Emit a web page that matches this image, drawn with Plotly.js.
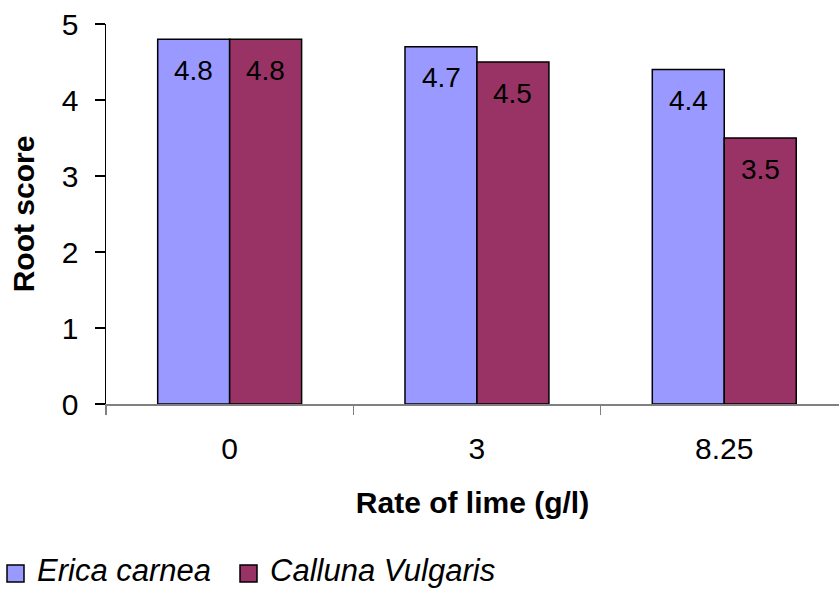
<!DOCTYPE html>
<html>
<head>
<meta charset="utf-8">
<script src="https://cdn.plot.ly/plotly-3.0.1.min.js"></script>
<style>html,body{margin:0;padding:0;background:#fff;}#chart{width:839px;height:589px;}</style>
</head>
<body>
<div id="chart"></div>
<script>
const categories = ["0", "3", "8.25"];
const seriesNames = ["Erica carnea", "Calluna Vulgaris"];
const ericaValues = [4.8, 4.7, 4.4];
const callunaValues = [4.8, 4.5, 3.5];
const yTickValues = [0, 1, 2, 3, 4, 5];

const FONT = "Liberation Sans, Arial, sans-serif";
const colors = ["#9999FF", "#993366"];
const seriesValues = [ericaValues, callunaValues];

const traces = seriesValues.map((vals, i) => ({
  type: "bar",
  name: seriesNames[i],
  x: categories,
  y: vals,
  marker: {color: colors[i], line: {color: "#000", width: 1.5}},
  hoverinfo: "none",
  showlegend: false
}));

// value labels placed near top inside each bar
const barOffset = [-0.145, 0.145];
const annotations = [];
seriesValues.forEach((vals, i) => {
  vals.forEach((v, j) => {
    annotations.push({
      x: j + barOffset[i], y: v, xref: "x", yref: "y",
      text: String(v), showarrow: false,
      yanchor: "middle", yshift: -31,
      font: {family: FONT, size: 28, color: "#000"}
    });
  });
});

// legend drawn at the bottom
const plotL = 106, plotW = 733, plotT = 24, plotH = 380;
const px = x => (x - plotL) / plotW;
const py = y => (plotT + plotH - y) / plotH;
const legendSquareX = [7, 240];
const legendTextX = [35, 268];
const shapes = [];
seriesNames.forEach((name, i) => {
  shapes.push({
    type: "rect", xref: "paper", yref: "paper",
    x0: px(legendSquareX[i]), x1: px(legendSquareX[i] + 17),
    y0: py(565), y1: py(582),
    fillcolor: colors[i], line: {color: "#000", width: 1.5}
  });
  annotations.push({
    xref: "paper", yref: "paper", x: px(legendTextX[i]), y: py(570),
    xanchor: "left", yanchor: "middle", showarrow: false,
    text: "<i>" + name + "</i>",
    font: {family: FONT, size: 31, color: "#000"}
  });
});

const layout = {
  width: 839, height: 589,
  margin: {l: 106, r: 0, t: 24, b: 185},
  paper_bgcolor: "#fff", plot_bgcolor: "#fff",
  barmode: "group", bargap: 0.418, bargroupgap: 0,
  font: {family: FONT, color: "#000"},
  showlegend: false,
  xaxis: {
    type: "category", range: [-0.5, 2.464], autorange: false,
    showline: true, linecolor: "#808080", linewidth: 1.5,
    ticks: "outside", tickson: "boundaries", ticklen: 9, tickcolor: "#808080", tickwidth: 1.5,
    showgrid: false, zeroline: false,
    tickfont: {family: FONT, size: 30, color: "#000"},
    ticklabelstandoff: 17,
    title: {text: "<b>Rate of lime (g/l)</b>", font: {family: FONT, size: 30, color: "#000"}, standoff: 28},
    fixedrange: true
  },
  yaxis: {
    range: [0, 5], autorange: false,
    tickvals: yTickValues, ticktext: yTickValues.map(String),
    showline: true, linecolor: "#000", linewidth: 1.5,
    ticks: "outside", ticklen: 10, tickcolor: "#000", tickwidth: 1.5,
    showgrid: false, zeroline: false,
    tickfont: {family: FONT, size: 30, color: "#000"},
    ticklabelstandoff: 10,
    title: {text: "<b>Root score</b>", font: {family: FONT, size: 30, color: "#000"}, standoff: 18},
    fixedrange: true
  },
  shapes: shapes,
  annotations: annotations
};

Plotly.newPlot("chart", traces, layout, {displayModeBar: false, staticPlot: true});
</script>
</body>
</html>
